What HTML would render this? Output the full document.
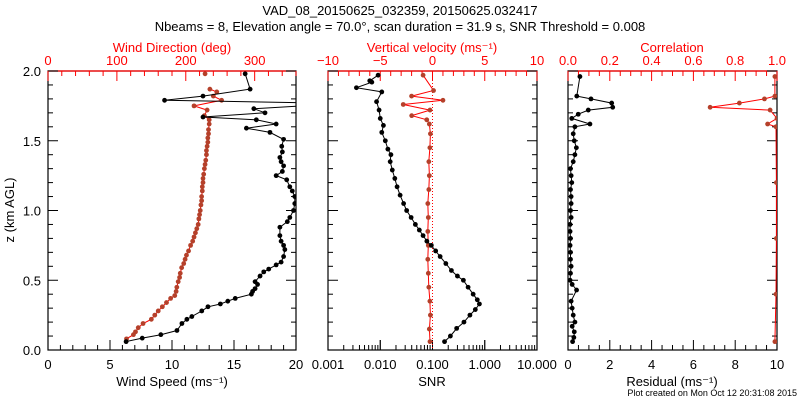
<!DOCTYPE html>
<html><head><meta charset="utf-8"><style>
body{margin:0;background:#fff}
svg{display:block;font-family:"Liberation Sans",sans-serif}
</style></head><body>
<svg id="c" width="800" height="400" viewBox="0 0 800 400">
<text x="400" y="15" font-size="13" text-anchor="middle">VAD_08_20150625_032359, 20150625.032417</text>
<text x="400" y="31" font-size="13" text-anchor="middle">Nbeams = 8, Elevation angle = 70.0°, scan duration = 31.9 s, SNR Threshold = 0.008</text>
<text x="797" y="396" font-size="9" text-anchor="end">Plot created on Mon Oct 12 20:31:08 2015</text>
<text transform="translate(14,210) rotate(-90)" font-size="13" text-anchor="middle">z (km AGL)</text>
</svg>
<script>
// ---- data ----
const speedZ=[0.06,0.085,0.11,0.14,0.19,0.22,0.24,0.28,0.31,0.33,0.35,0.37,0.40,0.42,0.44,0.47,0.49,0.53,0.56,0.58,0.61,0.63,0.67,0.72,0.75,0.78,0.82,0.88,0.92,0.95,1.0,1.05,1.1,1.14,1.17,1.22,1.25,1.28,1.32,1.35,1.38,1.42,1.46,1.51,1.56,1.59,1.62,1.65,1.67,1.70,1.73,1.75,1.77,1.79,1.82,1.87,1.98];
const speedVals=[6.3,7.6,9.1,10.4,10.8,11.2,11.6,12.4,12.9,13.9,14.5,15.1,16.4,16.5,16.7,16.9,16.7,17.1,17.4,17.8,18.4,18.8,19.0,19.1,19.0,18.8,18.7,18.7,19.3,19.5,19.8,19.9,19.9,19.7,19.5,19.25,18.4,18.9,19.0,18.8,18.7,18.9,18.85,19.0,17.9,16.0,18.4,16.8,12.5,17.5,16.6,20.5,22,9.4,12.5,16.3,15.9];
const dirZ=[0.08,0.11,0.13,0.16,0.19,0.22,0.25,0.28,0.31,0.34,0.37,0.39,0.42,0.45,0.49,0.52,0.55,0.59,0.62,0.65,0.68,0.71,0.75,0.78,0.81,0.84,0.87,0.9,0.94,0.97,1.0,1.04,1.07,1.1,1.14,1.17,1.2,1.23,1.26,1.3,1.33,1.36,1.4,1.43,1.46,1.49,1.52,1.55,1.58,1.62,1.65,1.68,1.72,1.75,1.79,1.82,1.85,1.87];
const dirVals=[114,124,127,131,138,150,155,160,166,172,178,184,186,187,189,191,192,194,197,199,201,204,207,210,212,214,216,218,219,220,221,222,223,223,224,224,225,225,226,227,228,229,230,230,231,232,232,233,233,234,234,227,231,212,252,240,245,235];
const snrZ=[0.06,0.1,0.155,0.2,0.25,0.29,0.33,0.36,0.40,0.45,0.50,0.53,0.57,0.62,0.67,0.71,0.75,0.78,0.82,0.86,0.90,0.95,1.0,1.05,1.11,1.17,1.23,1.29,1.35,1.40,1.44,1.5,1.56,1.61,1.66,1.72,1.78,1.85,1.88,1.92,1.93,1.97];
const snrVals=[0.17,0.22,0.29,0.4,0.52,0.66,0.79,0.72,0.60,0.48,0.39,0.30,0.23,0.18,0.14,0.115,0.095,0.078,0.066,0.056,0.047,0.039,0.032,0.028,0.024,0.021,0.019,0.017,0.0155,0.016,0.014,0.0125,0.0107,0.0115,0.010,0.0095,0.0085,0.0107,0.0035,0.0069,0.0063,0.0091];
const wZ=[0.06,0.15,0.25,0.35,0.45,0.55,0.65,0.75,0.85,0.95,1.05,1.15,1.25,1.35,1.45,1.55,1.62,1.65,1.68,1.72,1.76,1.79,1.82,1.86,1.97];
const wVals=[-0.24,-0.3,-0.2,-0.25,-0.35,-0.4,-0.45,-0.4,-0.45,-0.4,-0.45,-0.35,-0.3,-0.35,-0.25,-0.2,-0.3,-0.55,-1.99,-0.24,-2.8,1.0,-2.0,0.1,-0.9];
const resZ=[0.06,0.09,0.13,0.17,0.2,0.25,0.3,0.35,0.43,0.47,0.5,0.55,0.6,0.65,0.7,0.75,0.8,0.85,0.9,0.95,1.0,1.05,1.1,1.15,1.2,1.25,1.3,1.35,1.4,1.45,1.5,1.55,1.6,1.62,1.66,1.69,1.72,1.74,1.77,1.8,1.82,1.96];
const resVals=[0.22,0.28,0.3,0.2,0.33,0.25,0.2,0.15,0.41,0.2,0.1,0.12,0.15,0.12,0.12,0.1,0.12,0.1,0.1,0.15,0.12,0.15,0.15,0.12,0.18,0.15,0.12,0.25,0.33,0.4,0.3,0.25,0.33,1.05,0.18,0.49,0.97,2.14,2.09,1.1,0.42,0.57];
const corZ=[0.06,0.4,0.8,1.2,1.6,1.62,1.66,1.72,1.74,1.77,1.8,1.82,1.96];
const corVals=[0.99,0.995,0.997,0.997,0.995,0.955,1.0,0.967,0.68,0.82,0.94,0.99,0.99];

const NS="http://www.w3.org/2000/svg";
const svg=document.getElementById('c');
const Y0=350,Y1=71;
const yz=z=>Y0+(Y1-Y0)*z/2;
function el(t,a,p){const e=document.createElementNS(NS,t);for(const k in a)e.setAttribute(k,a[k]);(p||svg).appendChild(e);return e;}
function txt(x,y,s,col,anchor,name){const t=el('text',{x:x,y:y,'font-size':13,fill:col,'text-anchor':anchor||'middle'});t.textContent=s;


return t;}

function panel(id,x0,x1){
  const g=el('g',{});
  
  
  const cp=el('clipPath',{id:'cp'+id},g);el('rect',{x:x0,y:Y1,width:x1-x0,height:Y0-Y1},cp);
  const r=el('rect',{x:x0,y:Y1,width:x1-x0,height:Y0-Y1,fill:'none',stroke:'#000','stroke-width':1.2},g);
  
  
  const tl=el('line',{x1:x0,y1:Y1,x2:x1,y2:Y1,stroke:'#f00','stroke-width':1.2},g);
  
  
  for(let i=0;i<=20;i++){const y=yz(i/10);const L=i%5==0?10:5;
    el('line',{x1:x0,y1:y,x2:x0+L,y2:y,stroke:'#000'},g);el('line',{x1:x1,y1:y,x2:x1-L,y2:y,stroke:'#000'},g);}
  return g;
}
function linTicks(g,x0,x1,lo,hi,major,minor,y,dir,col,fmt,name){
  const sx=v=>x0+(v-lo)/(hi-lo)*(x1-x0);
  const n=Math.round((hi-lo)/minor);
  for(let i=0;i<=n;i++){const v=lo+i*minor;const isM=Math.abs(v/major-Math.round(v/major))<1e-6;
    el('line',{x1:sx(v),y1:y,x2:sx(v),y2:y+dir*(isM?10:5),stroke:col},g);
    if(isM){txt(sx(v),dir>0?y-6:y+19,fmt(v),col,'middle',name+'-tick-label');}}
}
function series(g,id,zs,vs,sx,lineCol,dotCol,name){
  const cg=el('g',{'clip-path':'url(#cp'+id+')'},g);
  const pts=zs.map((z,i)=>sx(vs[i]).toFixed(1)+','+yz(z).toFixed(1)).join(' ');
  const pl=el('polyline',{points:pts,fill:'none',stroke:lineCol,'stroke-width':1},cg);
  
  
  zs.forEach((z,i)=>{const c=el('circle',{cx:sx(vs[i]),cy:yz(z),r:2.4,fill:dotCol},cg);
    
    });
}
const minus=s=>s.replace('-','\u2212');

// Panel 1
const A0=48,A1=296;
let g=panel('wind',A0,A1);
const sxS=v=>A0+v/20*(A1-A0), sxD=v=>A0+v/360*(A1-A0);
linTicks(g,A0,A1,0,20,5,1,Y0,-1,'#000',v=>String(v),'wind-speed');
linTicks(g,A0,A1,0,360,100,20,Y1,1,'#f00',v=>String(v),'wind-direction');
for(let i=0;i<=4;i++){txt(A0-7,yz(i*0.5)+5,(i*0.5).toFixed(1),'#000','end','z-tick-label');}
txt(172,386,'Wind Speed (ms\u207B\u00B9)','#000','middle','x-axis-title-speed');
txt(172,52,'Wind Direction (deg)','#f00','middle','x-axis-title-direction');
series(g,'wind',dirZ,dirVals,sxD,'#f00','#b5402a','wind-direction');
const lone=el('circle',{cx:sxD(228),cy:yz(1.98),r:2.4,fill:'#b5402a'},g);


series(g,'wind',speedZ,speedVals,sxS,'#000','#000','wind-speed');

// Panel 2
const B0=328,B1=537;
g=panel('snr',B0,B1);
const sxL=v=>B0+(Math.log10(v)+3)/4*(B1-B0), sxW=v=>B0+(v+10)/20*(B1-B0);
for(let d=-3;d<1;d++)for(let m=1;m<=10;m++){const x=sxL(m*Math.pow(10,d));el('line',{x1:x,y1:Y0,x2:x,y2:Y0-(m==1||m==10?10:5),stroke:'#000'},g);}
['0.001','0.010','0.100','1.000','10.000'].forEach((s,i)=>txt(sxL(Math.pow(10,i-3)),369,s,'#000','middle','snr-tick-label'));
linTicks(g,B0,B1,-10,10,5,1,Y1,1,'#f00',v=>minus(String(v)),'vertical-velocity');
txt(432,386,'SNR','#000','middle','x-axis-title-snr');
txt(432,52,'Vertical velocity (ms\u207B\u00B9)','#f00','middle','x-axis-title-vertical-velocity');
const zl=el('line',{x1:sxW(0),y1:Y1,x2:sxW(0),y2:Y0,stroke:'#f00','stroke-dasharray':'1,2'},g);


series(g,'snr',wZ,wVals,sxW,'#f00','#b5402a','vertical-velocity');
series(g,'snr',snrZ,snrVals,sxL,'#000','#000','snr');

// Panel 3
const C0=568,C1=777;
g=panel('res',C0,C1);
const sxR=v=>C0+v/10*(C1-C0), sxC=v=>C0+v*(C1-C0);
linTicks(g,C0,C1,0,10,2,0.5,Y0,-1,'#000',v=>String(v),'residual');
linTicks(g,C0,C1,0,1,0.2,0.05,Y1,1,'#f00',v=>v.toFixed(1),'correlation');
txt(672,386,'Residual (ms\u207B\u00B9)','#000','middle','x-axis-title-residual');
txt(672,52,'Correlation','#f00','middle','x-axis-title-correlation');
series(g,'res',corZ,corVals,sxC,'#f00','#b5402a','correlation');
series(g,'res',resZ,resVals,sxR,'#000','#000','residual');
</script>
</body></html>
